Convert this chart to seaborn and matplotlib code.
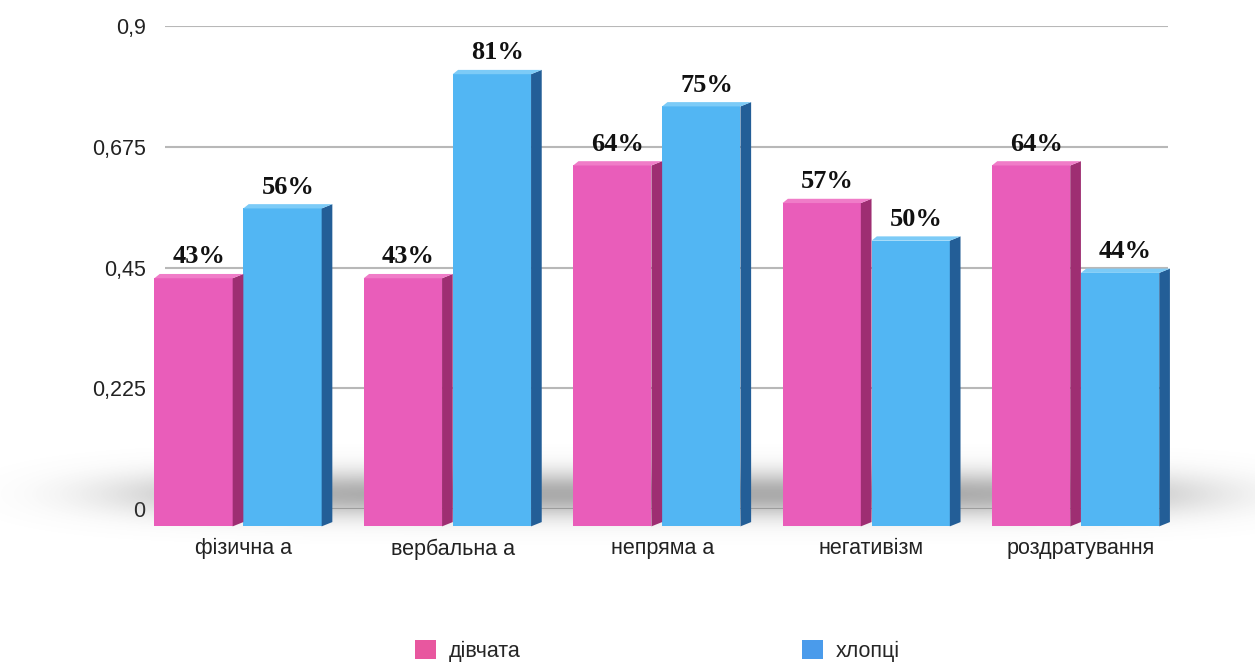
import numpy as np
import pandas as pd
import matplotlib
matplotlib.use("Agg")
import matplotlib.pyplot as plt
from matplotlib.patches import Polygon, Patch
import seaborn as sns

# ---- data ----
categories = ["фізична а", "вербальна а", "непряма а", "негативізм", "роздратування"]
groups = ["дівчата", "хлопці"]
girls = [0.43, 0.43, 0.64, 0.57, 0.64]
boys = [0.56, 0.81, 0.75, 0.50, 0.44]
ytick_values = [0, 0.225, 0.45, 0.675, 0.9]
ytick_labels = ["0", "0,225", "0,45", "0,675", "0,9"]

front_colors = {"дівчата": "#E95DBA", "хлопці": "#52B6F3"}
side_colors = {"дівчата": "#9E2E72", "хлопці": "#235E97"}
top_colors = {"дівчата": "#F07CC8", "хлопці": "#7CCBF7"}
legend_colors = {"дівчата": "#E8579F", "хлопці": "#4A9BEB"}

df = pd.DataFrame({
    "category": categories * 2,
    "group": [groups[0]] * len(categories) + [groups[1]] * len(categories),
    "value": girls + boys,
})

sns.set_theme(style="white")
plt.rcParams["font.family"] = ["Liberation Sans", "DejaVu Sans"]

fig = plt.figure(figsize=(12.55, 6.63), dpi=100)
ax = fig.add_axes([0.1315, 0.232, 0.7992, 0.729])

sns.barplot(data=df, x="category", y="value", hue="group", order=categories,
            hue_order=groups, palette=front_colors, width=0.85, gap=0.0,
            saturation=1, legend=False, ax=ax, zorder=3)

# soft floor shadow band under the bars
xs = np.linspace(-1.2, 5.2, 600)
ys = np.linspace(-0.1, 0.16, 200)
X, Y = np.meshgrid(xs, ys)
fx = np.exp(-(np.abs(X - 2.0) / 2.55) ** 6)
fy = np.exp(-((Y - 0.028) / 0.042) ** 2)
shade = fx * fy
rgba = np.zeros(X.shape + (4,))
rgba[..., :3] = 0.45
rgba[..., 3] = 0.6 * shade
ax.imshow(rgba, extent=(xs[0], xs[-1], ys[0], ys[-1]), origin="lower",
          aspect="auto", zorder=1, clip_on=False, interpolation="bilinear")

# give each bar a shaded side and top face
depth_frac = 0.12
dy = 0.008
base = -0.032
n = len(categories)
for i, patch in enumerate(ax.patches):
    grp = groups[i // n]
    x0 = patch.get_x()
    w = patch.get_width()
    h = patch.get_height()
    fw = w * (1 - depth_frac)
    patch.set_width(fw)
    patch.set_y(base)
    patch.set_height(h - base)
    patch.set_edgecolor("none")
    patch.set_clip_on(False)
    side = Polygon([(x0 + fw, base), (x0 + w, base + dy), (x0 + w, h + dy), (x0 + fw, h)],
                   closed=True, facecolor=side_colors[grp], edgecolor="none",
                   zorder=3, clip_on=False)
    top = Polygon([(x0, h), (x0 + fw, h), (x0 + w, h + dy), (x0 + w * 0.06, h + dy)],
                  closed=True, facecolor=top_colors[grp], edgecolor="none",
                  zorder=3, clip_on=False)
    ax.add_patch(side)
    ax.add_patch(top)
    ax.annotate(f"{round(h * 100)}%", (x0 + w / 2, h + dy), xytext=(0, 4),
                textcoords="offset points", ha="center", va="bottom",
                fontsize=19, fontweight="bold", family="Liberation Serif",
                color="#111111", zorder=5, annotation_clip=False)

ax.set_xlim(-0.374, 4.416)
ax.set_ylim(0, 0.9)
ax.set_yticks(ytick_values)
ax.set_yticklabels(ytick_labels)
ax.yaxis.grid(True, color="#b8b8b8", linewidth=1.5, zorder=0)
ax.set_axisbelow(True)
ax.tick_params(axis="y", length=0, pad=14, labelsize=15.5, labelcolor="#222222")
ax.tick_params(axis="x", length=0, pad=21, labelsize=15.5, labelcolor="#222222")
ax.set_xlabel("")
ax.set_ylabel("")
for s in ax.spines.values():
    s.set_visible(False)

handles = [Patch(facecolor=legend_colors[g], edgecolor="none") for g in groups]
fig.legend(handles, groups, loc="center", bbox_to_anchor=(0.524, 0.018), ncol=2,
           frameon=False, fontsize=15.5, handlelength=0.95, handleheight=0.95,
           handletextpad=0.6, columnspacing=13.1)

fig.savefig("out.png", dpi=100)
